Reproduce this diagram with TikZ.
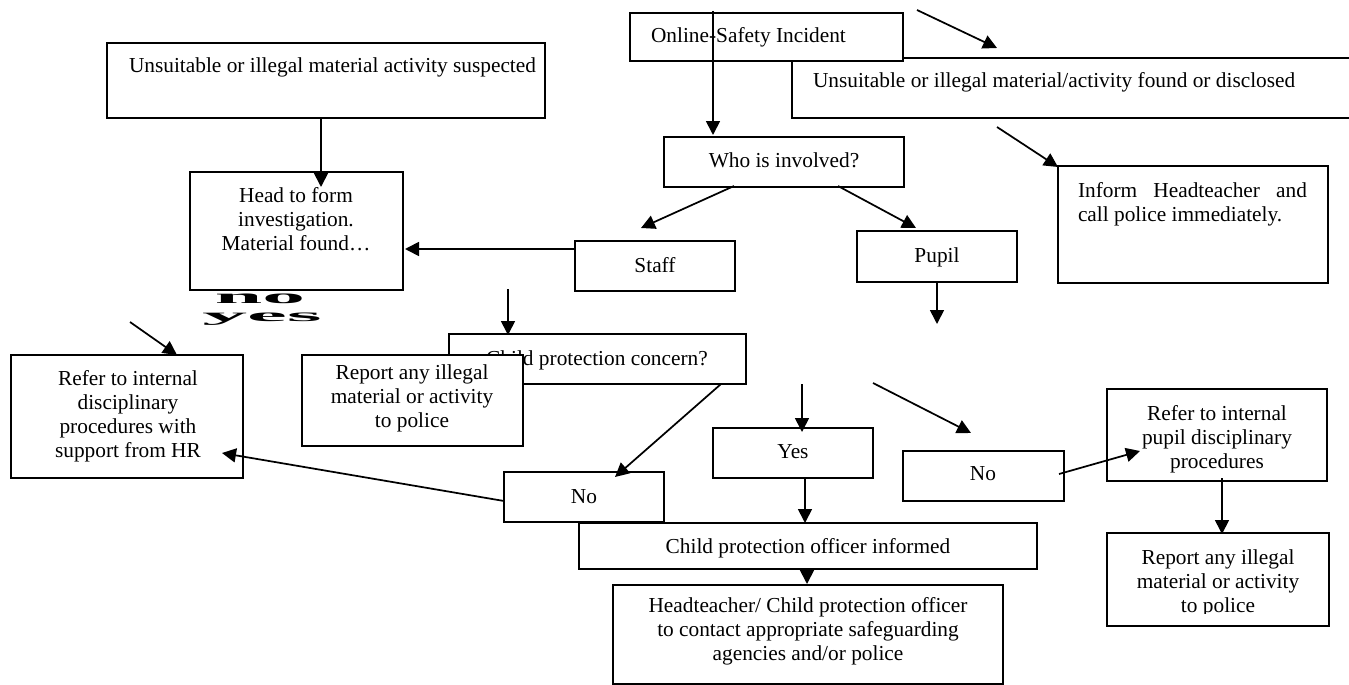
\documentclass[tikz,border=0pt]{standalone}
\usepackage{fontspec}
\setmainfont{Liberation Serif}
\usetikzlibrary{arrows.meta}
\newcommand\mybox[5]{\node[boxst, minimum width={(#4-#2)*0.75pt}, minimum height={(#5-#3)*0.75pt}] (#1) at (#2,#3) {};}
\begin{document}
\begin{tikzpicture}[x=0.75pt,y=-0.75pt,
 boxst/.style={draw=black, line width=1.4pt, fill=white, inner sep=0pt, outer sep=0pt, anchor=north west, rectangle},
 txt/.style={inner sep=0pt, outer sep=0pt, font=\fontsize{16}{18.2}\selectfont},
 arr/.style={line width=1.3pt, -{Triangle[length=10.5pt,width=10.5pt]}},
 odd/.style={inner sep=0pt, outer sep=0pt, font=\fontsize{16}{18}\selectfont\bfseries, anchor=base},
]
\useasboundingbox (0,0) rectangle (1349,685);
\fill[white] (0,0) rectangle (1349,685);

% top row
\mybox{found}{792}{58}{1353}{118}
\node[txt, anchor=base west] (tfound) at (813,88) {Unsuitable or illegal material/activity found or disclosed};
\mybox{inc}{630}{13}{903}{61}
\node[txt, anchor=base west] (tinc) at (651,43) {Online-Safety Incident};
\mybox{sus}{107}{43}{545}{118}
\node[txt, anchor=base west] (tsus) at (129,73) {Unsuitable or illegal material activity suspected};

% second row
\mybox{head}{190}{172}{403}{290}
\node[txt, anchor=base, text width=150pt, align=flush center] (thead) at (296,202) {Head to form\\investigation.\\Material found…};
\mybox{who}{664}{137}{904}{187}
\node[txt, anchor=base] (twho) at (784,167) {Who is involved?};
\mybox{staff}{575}{241}{735}{291}
\node[txt, anchor=base] (tstaff) at (655,272) {Staff};
\mybox{pupil}{857}{231}{1017}{282}
\node[txt, anchor=base] (tpupil) at (937,262) {Pupil};
\mybox{inform}{1058}{166}{1328}{283}
\node[txt, anchor=base west, text width=171.75pt, align=justify] (tinform) at (1078,197) {Inform Headteacher and\linebreak call police immediately.};

% odd labels
\node[odd] (nolab) at (260,303) {\scalebox{4}[0.95]{no}};
\node[odd] (yeslab) at (262,321) {\scalebox{4.2}[0.85]{yes}};

% child protection concern and left report
\mybox{cpc}{449}{334}{746}{384}
\node[txt, anchor=base] (tcpc) at (597,365) {Child protection concern?};
\mybox{repL}{302}{355}{523}{446}
\begin{scope}
\clip (302,355) rectangle (523,431);
\node[txt, anchor=base, text width=160pt, align=flush center] (trepL) at (412,379) {Report any illegal\\material or activity\\to police};
\end{scope}

\mybox{hr}{11}{355}{243}{478}
\node[txt, anchor=base, text width=170pt, align=flush center] (thr) at (128,385) {Refer to internal\\disciplinary\\procedures with\\support from HR};

\mybox{noL}{504}{472}{664}{522}
\node[txt, anchor=base] (tnoL) at (584,503) {No};
\mybox{yes}{713}{428}{873}{478}
\node[txt, anchor=base] (tyes) at (793,458) {Yes};
\mybox{noR}{903}{451}{1064}{501}
\node[txt, anchor=base] (tnoR) at (983,480) {No};

\mybox{refer}{1107}{389}{1327}{481}
\node[txt, anchor=base, text width=165pt, align=flush center] (trefer) at (1217,420) {Refer to internal\\pupil disciplinary\\procedures};
\mybox{repR}{1107}{533}{1329}{626}
\begin{scope}
\clip (1107,533) rectangle (1329,613);
\node[txt, anchor=base, text width=166pt, align=flush center] (trepR) at (1218,564) {Report any illegal\\material or activity\\to police};
\end{scope}

\mybox{cpo}{579}{523}{1037}{569}
\node[txt, anchor=base] (tcpo) at (808,553) {Child protection officer informed};
\mybox{hdt}{613}{585}{1003}{684}
\node[txt, anchor=base, text width=290pt, align=flush center] (thdt) at (808,612) {Headteacher/ Child protection officer\\to contact appropriate safeguarding\\agencies and/or police};

% connector end points
\coordinate (c1s) at (713,11);   \coordinate (c1e) at (713,135);
\coordinate (c2s) at (917,10);   \coordinate (c2e) at (997,48);
\coordinate (c3s) at (321,118);  \coordinate (c3e) at (321,187);
\coordinate (c4s) at (575,249);  \coordinate (c4e) at (405,249);
\coordinate (c5s) at (734,186);  \coordinate (c5e) at (641,228);
\coordinate (c6s) at (838,186);  \coordinate (c6e) at (916,228);
\coordinate (c7s) at (997,127);  \coordinate (c7e) at (1058,167);
\coordinate (c8s) at (937,282);  \coordinate (c8e) at (937,324);
\coordinate (c9s) at (508,289);  \coordinate (c9e) at (508,335);
\coordinate (c10s) at (721,384); \coordinate (c10e) at (615,477);
\coordinate (c11s) at (504,501); \coordinate (c11e) at (222,453);
\coordinate (c12s) at (130,322); \coordinate (c12e) at (177,355);
\coordinate (c13s) at (802,384); \coordinate (c13e) at (802,432);
\coordinate (c14s) at (873,383); \coordinate (c14e) at (971,433);
\coordinate (c15s) at (805,478); \coordinate (c15e) at (805,523);
\coordinate (c16s) at (807,569); \coordinate (c16e) at (807,584);
\coordinate (c17s) at (1059,474); \coordinate (c17e) at (1140,451);
\coordinate (c18s) at (1222,478); \coordinate (c18e) at (1222,534);

\foreach \i in {1,...,18} {\draw[arr] (c\i s) -- (c\i e);}
\end{tikzpicture}
\end{document}
